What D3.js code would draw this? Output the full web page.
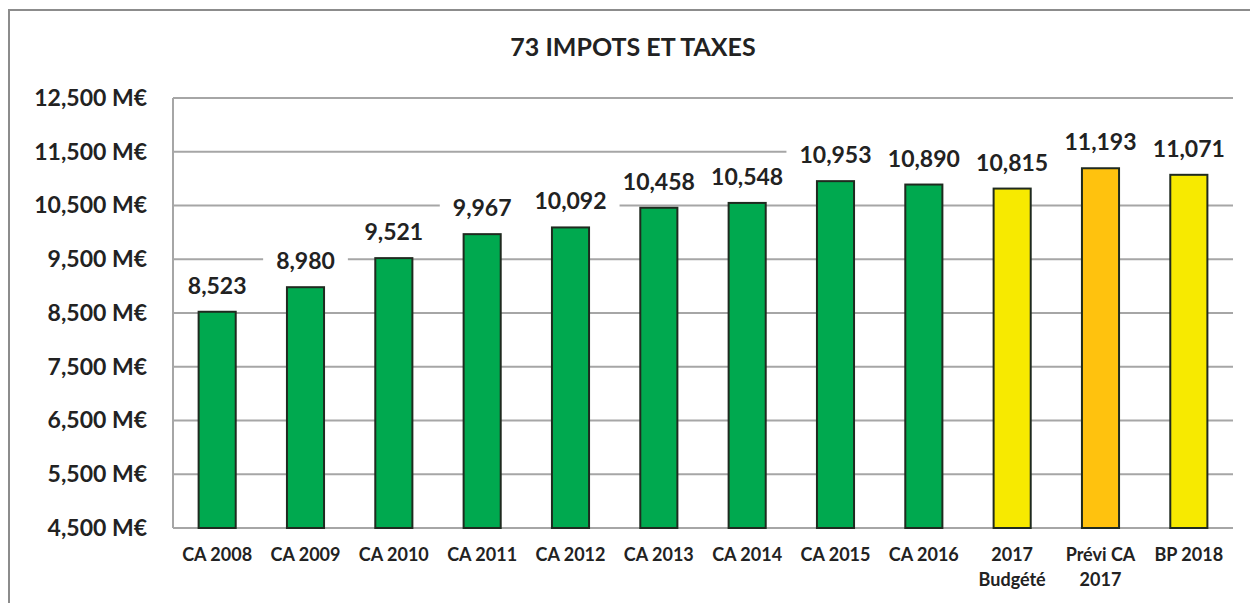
<!DOCTYPE html>
<html>
<head>
<meta charset="utf-8">
<script src="https://cdn.jsdelivr.net/npm/d3@7"></script>
<style>
  body { margin: 0; background: #fff; }
  text { font-family: Lato, "Open Sans", sans-serif; font-weight: bold; fill: #222; }
</style>
</head>
<body>
<svg id="chart" width="1250" height="603"></svg>
<script>
var categories = ["CA 2008", "CA 2009", "CA 2010", "CA 2011", "CA 2012", "CA 2013", "CA 2014",
    "CA 2015", "CA 2016", "2017\nBudgété", "Prévi CA\n2017", "BP 2018"];
var values = [8523, 8980, 9521, 9967, 10092, 10458, 10548, 10953, 10890, 10815, 11193, 11071];
var kinds = ["ca", "ca", "ca", "ca", "ca", "ca", "ca", "ca", "ca", "budget", "previ", "budget"];
var yTicks = [4500, 5500, 6500, 7500, 8500, 9500, 10500, 11500, 12500];
var title = "73 IMPOTS ET TAXES";

var colors = { ca: "#00a94f", budget: "#f7ea00", previ: "#ffc20e" };

var svg = d3.select("#chart"),
    margin = { top: 98, right: 17, bottom: 75, left: 173 },
    width = 1250 - margin.left - margin.right,
    height = 603 - margin.top - margin.bottom;

// outer frame (top + left visible)
svg.append("path")
    .attr("d", "M9,603 L9,10 L1250,10")
    .attr("fill", "none")
    .attr("stroke", "#8c8c8c")
    .attr("stroke-width", 2);

svg.append("text")
    .attr("x", 633)
    .attr("y", 50)
    .attr("text-anchor", "middle")
    .attr("dominant-baseline", "middle")
    .style("font-size", "25px")
    .text(title);

var g = svg.append("g")
    .attr("transform", "translate(" + margin.left + "," + margin.top + ")");

var x = d3.scaleBand()
    .domain(categories)
    .range([0, width])
    .paddingInner(0.58)
    .paddingOuter(0.29);

var y = d3.scaleLinear()
    .domain([4500, 12500])
    .range([height, 0]);

var fmt = d3.format(",");

// gridlines
g.selectAll(".grid")
    .data(yTicks)
    .enter()
    .append("line")
    .attr("x1", 0)
    .attr("x2", width)
    .attr("y1", function(d) { return y(d); })
    .attr("y2", function(d) { return y(d); })
    .attr("stroke", "#a6a6a6")
    .attr("stroke-width", 2);

g.append("line")
    .attr("x1", 0).attr("x2", 0)
    .attr("y1", 0).attr("y2", height)
    .attr("stroke", "#a6a6a6")
    .attr("stroke-width", 2);

// y axis labels
var yAxis = d3.axisLeft(y)
    .tickValues(yTicks)
    .tickSize(0)
    .tickPadding(26)
    .tickFormat(function(d) { return fmt(d) + " M€"; });

g.append("g")
    .call(yAxis)
    .call(function(sel) {
        sel.select(".domain").remove();
        sel.selectAll("text")
            .style("font-size", "23px")
            .style("font-family", null)
            .attr("fill", "#222");
    });

// bars
g.selectAll(".bar")
    .data(values)
    .enter()
    .append("rect")
    .attr("x", function(d, i) { return x(categories[i]); })
    .attr("y", function(d) { return y(d); })
    .attr("width", x.bandwidth())
    .attr("height", function(d) { return height - y(d); })
    .attr("fill", function(d, i) { return colors[kinds[i]]; })
    .attr("stroke", "#1f2a1f")
    .attr("stroke-width", 2);

// value labels with white boxes
var labels = g.selectAll(".lbl")
    .data(values)
    .enter()
    .append("g")
    .attr("transform", function(d, i) {
        return "translate(" + (x(categories[i]) + x.bandwidth() / 2) + "," + (y(d) - 27) + ")";
    });

labels.append("text")
    .attr("text-anchor", "middle")
    .attr("dominant-baseline", "central")
    .style("font-size", "23px")
    .text(function(d) { return fmt(d); });

labels.each(function() {
    var sel = d3.select(this),
        b = sel.select("text").node().getBBox();
    sel.insert("rect", "text")
        .attr("x", b.x - 13)
        .attr("y", b.y - 3)
        .attr("width", b.width + 26)
        .attr("height", b.height + 6)
        .attr("fill", "#fff");
});

// x labels
var xl = g.selectAll(".xl")
    .data(categories)
    .enter()
    .append("text")
    .attr("text-anchor", "middle")
    .attr("x", function(d) { return x(d) + x.bandwidth() / 2; })
    .attr("y", height + 33)
    .style("font-size", "18px");

xl.each(function(d) {
    var t = d3.select(this);
    d.split("\n").forEach(function(line, k) {
        t.append("tspan")
            .attr("x", t.attr("x"))
            .attr("dy", k === 0 ? 0 : 25)
            .text(line);
    });
});
</script>
</body>
</html>
